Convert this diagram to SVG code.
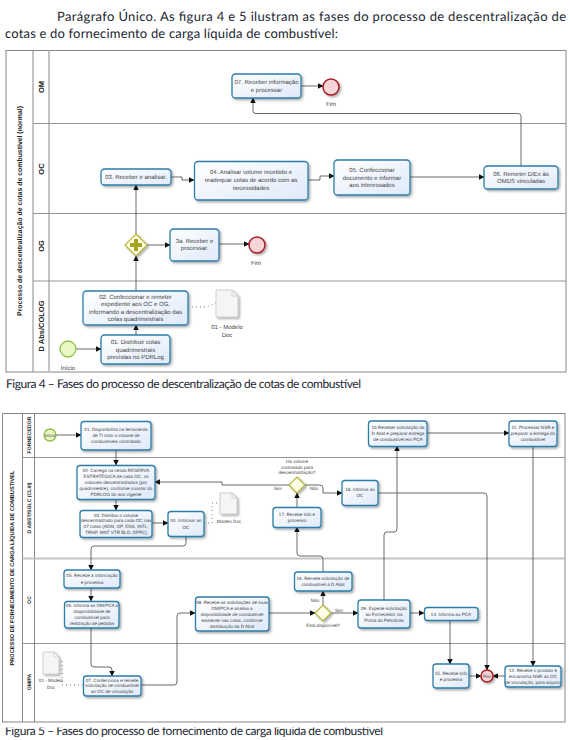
<svg xmlns="http://www.w3.org/2000/svg" width="570" height="740" viewBox="0 0 570 740">
<style>
text{font-family:"Liberation Sans",Arial,sans-serif;fill:#444;text-rendering:geometricPrecision}
.h{font-family:Lato,"Liberation Sans",sans-serif;font-size:13px;fill:#1c2733}
.cap{font-size:12px}
.t1{font-size:6px;text-anchor:middle}
.t2{font-size:4.600px;text-anchor:middle}
.pool{font-weight:bold;fill:#222;text-anchor:middle}
.n{fill:url(#g);stroke:#2b7ea8;stroke-width:1.300;filter:url(#s)}
.c{fill:none;stroke:#444;stroke-width:.8}
.a{marker-end:url(#m)}
.d{fill:none;stroke:#555;stroke-width:.8;stroke-dasharray:1 3}
.f{fill:none;stroke:#888;stroke-width:1}
.l{fill:none;stroke:#888;stroke-width:.9}
.k{fill:none;stroke:#c4c4c4;stroke-width:2}
.doc{fill:#f5f5f5;stroke:#c0c0c0;stroke-width:.7;filter:url(#s)}
.gw{fill:#fdfde8;stroke:#b5b53c;stroke-width:1.200;filter:url(#s)}
.st{fill:#eaf6c4;stroke:#8fc04a;stroke-width:1.300}
.en{fill:#f6d5d8;stroke:#a81c24;stroke-width:1.500;filter:url(#s)}
</style>
<defs>
<linearGradient id="g" x1="0" y1="0" x2="1" y2="1"><stop offset="0" stop-color="#ffffff"/><stop offset="1" stop-color="#dfe9fa"/></linearGradient>
<filter id="s" x="-20%" y="-20%" width="150%" height="150%"><feDropShadow dx="1.500" dy="1.500" stdDeviation="1" flood-color="#000" flood-opacity=".35"/></filter>
<marker id="m" viewBox="0 0 6 6" refX="5.500" refY="3" markerWidth="5.500" markerHeight="5.500" markerUnits="userSpaceOnUse" orient="auto"><path d="M0 0L6 3L0 6Z" fill="#111"/></marker>
<clipPath id="cut"><rect x="0" y="727.500" width="570" height="13"/></clipPath>
</defs>
<rect width="570" height="740" fill="#fff"/>

<text class="h" x="57" y="21" textLength="509" lengthAdjust="spacing">Parágrafo Único. As figura 4 e 5 ilustram as fases do processo de descentralização de</text>
<text class="h" x="5" y="38" textLength="333" lengthAdjust="spacing">cotas e do fornecimento de carga líquida de combustível:</text>
<text class="h cap" x="6" y="388" textLength="355" lengthAdjust="spacing">Figura 4 – Fases do processo de descentralização de cotas de combustível</text>
<text class="h cap" x="5" y="735" textLength="378" lengthAdjust="spacing" clip-path="url(#cut)">Figura 5 – Fases do processo de fornecimento de carga líquida de combustível</text>

<g id="pool1">
<rect class="f" x="6" y="50.500" width="560" height="321.500"/>
<path class="f" d="M33 50.500V372"/>
<path class="k" d="M49 50.500V372"/>
<path class="l" d="M33 123.500H566M33 213.500H566M33 281H566"/>
<text class="pool" font-size="6.900" transform="translate(21.500 211) rotate(-90)">Processo de descentralização de cotas de combustível (normal)</text>
<text class="pool" font-size="7.500" transform="translate(43.500 87) rotate(-90)">OM</text>
<text class="pool" font-size="7.500" transform="translate(43.500 169) rotate(-90)">OC</text>
<text class="pool" font-size="7.500" transform="translate(43.500 246) rotate(-90)">OG</text>
<text class="pool" font-size="7.500" transform="translate(43.500 326) rotate(-90)">D Abs/COLOG</text>
</g>
<g id="pool2">
<rect class="f" x="2.500" y="413.500" width="562.500" height="308.500"/>
<path class="f" d="M22.500 413.500V722M34.500 413.500V722"/>
<path class="l" d="M22.500 457.500H565M22.500 643.500H565"/>
<path class="k" d="M22.500 558.500H565"/>
<text class="pool" font-size="5.600" transform="translate(14 568) rotate(-90)">PROCESSO DE FORNECIMENTO DE CARGA LÍQUIDA DE COMBUSTIVEL</text>
<text class="pool" font-size="5.200" transform="translate(30.500 435) rotate(-90)">FORNECEDOR</text>
<text class="pool" font-size="5.200" transform="translate(30.500 508) rotate(-90)">D ABST/SGLC (CLIII)</text>
<text class="pool" font-size="5.200" transform="translate(30.500 600) rotate(-90)">OC</text>
<text class="pool" font-size="5.200" transform="translate(30.500 682) rotate(-90)">OM/PA</text>
</g>

<g id="connectors">
<path class="c a" d="M301 86H323"/>
<path class="c a" d="M521 166V116Q521 113.500 518 113.500H256Q253 113.500 253 111V98"/>
<path class="c a" d="M410 177H484"/>
<path class="c a" d="M308 180H320V176H334"/>
<path class="c a" d="M171 177H182V180H194"/>
<path class="c a" d="M136 234V185"/>
<path class="c a" d="M136 291V256"/>
<path class="c a" d="M147 245H170"/>
<path class="c a" d="M219 244H249"/>
<path class="c a" d="M136 335V325"/>
<path class="c a" d="M76 349H101"/>
<path class="d" d="M188 307H206L216 303"/>

<path class="c a" d="M56 435H81"/>
<path class="c a" d="M116 450V465"/>
<path class="c a" d="M116 499V510"/>
<path class="c a" d="M152 523H168"/>
<path class="c a" d="M186 536V543Q186 546 183 546H94Q91 546 91 549V570"/>
<path class="d" d="M204 523H212V503H220"/>
<path class="c a" d="M91 588V601"/>
<path class="c a" d="M91 628V664Q91 667 94 667H109Q112 667 112 670V676"/>
<path class="d" d="M83 685H62V660"/>
<path class="c a" d="M141 685H174Q177 685 177 682V616Q177 613 180 613H195"/>
<path class="c a" d="M269 613H315"/>
<path class="c a" d="M331 613H358"/>
<path class="c a" d="M323 605V591"/>
<path class="c a" d="M323 572V559Q323 556 320 556H300Q297 556 297 553V527"/>
<path class="c a" d="M297 507V493"/>
<path class="c a" d="M289 485H222V482H155"/>
<path class="c a" d="M305 485H320Q323 485 323 488V493H342"/>
<path class="c a" d="M378 493H484Q487 493 487 496V670"/>
<path class="c a" d="M384 600V535Q384 532 387 532H394Q397 532 397 529V446"/>
<path class="c a" d="M427 433H509"/>
<path class="c a" d="M533 446V666"/>
<path class="c a" d="M410 613H424"/>
<path class="c a" d="M450 620V664"/>
<path class="c a" d="M469 676H481"/>
<path class="c a" d="M505 676H493"/>
</g>

<g id="f4-07"><rect class="n" x="232" y="74" width="69" height="24" rx="3.500"/><text class="t1"><tspan x="266.500" y="84">07. Receber informação</tspan><tspan x="266.500" y="92">e processar</tspan></text></g>
<g id="f4-fim1"><circle class="en" cx="331" cy="87" r="8"/><text class="t1" x="331" y="106">Fim</text></g>
<g id="f4-03"><rect class="n" x="101" y="169" width="70" height="16" rx="3.500"/><text class="t1" x="136" y="179">03. Receber e analisar.</text></g>
<g id="f4-04"><rect class="n" x="194.500" y="161.500" width="113.500" height="38.500" rx="3.500"/><text class="t1"><tspan x="251" y="174">04. Analisar volume recebido e</tspan><tspan x="251" y="182">readequar cotas de acordo com as</tspan><tspan x="251" y="190">necessidades</tspan></text></g>
<g id="f4-05"><rect class="n" x="334" y="160" width="76" height="35" rx="3.500"/><text class="t1"><tspan x="372" y="172">05. Confeccionar</tspan><tspan x="372" y="179.500">documento e informar</tspan><tspan x="372" y="187">aos interessados</tspan></text></g>
<g id="f4-06"><rect class="n" x="484" y="166" width="74" height="23" rx="3.500"/><text class="t1"><tspan x="521" y="176">06. Remeter DIEx às</tspan><tspan x="521" y="183">OMDS vinculadas</tspan></text></g>
<g id="f4-gw"><path class="gw" d="M136 234L147 245L136 256L125 245Z"/><path d="M134 239h4v4h4v4h-4v4h-4v-4h-4v-4h4Z" fill="#a8a420"/></g>
<g id="f4-3a"><rect class="n" x="170" y="229" width="49" height="32" rx="3.500"/><text class="t1"><tspan x="194.500" y="243">3a. Receber e</tspan><tspan x="194.500" y="250">processar.</tspan></text></g>
<g id="f4-fim2"><circle class="en" cx="257" cy="245" r="8"/><text class="t1" x="256" y="265">Fim</text></g>
<g id="f4-02"><rect class="n" x="83" y="291" width="105" height="34" rx="3.500"/><text class="t1"><tspan x="135.500" y="298.500">02. Confeccionar e remeter</tspan><tspan x="135.500" y="306">expediente aos  OC e OG,</tspan><tspan x="135.500" y="313.500">informando a descentralização das</tspan><tspan x="135.500" y="321">cotas quadrimestrais</tspan></text></g>
<g id="f4-doc"><path class="doc" d="M216 290H232L238 296V317H216Z"/><path d="M232 290V296H238" fill="none" stroke="#c0c0c0" stroke-width=".6"/><text class="t1"><tspan x="227" y="329">01 - Modelo</tspan><tspan x="227" y="337">Doc</tspan></text></g>
<g id="f4-01"><rect class="n" x="101" y="335" width="69" height="29" rx="3.500"/><text class="t1"><tspan x="135.500" y="344">01. Distribuir cotas</tspan><tspan x="135.500" y="351.500">quadrimestrais</tspan><tspan x="135.500" y="359">previstas no PDRLog</tspan></text></g>
<g id="f4-inicio"><circle class="st" cx="68" cy="349" r="8"/><text class="t1" x="68" y="370">Início</text></g>

<g id="f5-inicio"><circle class="st" cx="50" cy="435" r="6"/><text class="t2" x="50" y="437">Início</text></g>
<g id="f5-01"><rect class="n" x="81" y="421.500" width="70" height="28.500" rx="3"/><text class="t2"><tspan x="116" y="431">01. Disponibiliza na ferramenta</tspan><tspan x="116" y="437">de TI todo o volume de</tspan><tspan x="116" y="443">combustíveis contratado</tspan></text></g>
<g id="f5-02"><rect class="n" x="77" y="465.500" width="78" height="34" rx="3"/><text class="t2"><tspan x="116" y="472">02. Carrega na célula RESERVA</tspan><tspan x="116" y="478">ESTRATÉGICA de cada OC, os</tspan><tspan x="116" y="484">volumes descentralizados (por</tspan><tspan x="116" y="490">quadrimestre), conforme constar do</tspan><tspan x="116" y="496">PDRLOG do ano vigente</tspan></text></g>
<g id="f5-03"><rect class="n" x="80" y="510.500" width="72" height="27" rx="3"/><text class="t2"><tspan x="116" y="516.500">03. Distribui o volume</tspan><tspan x="116" y="522">descentralizado para cada OC nas</tspan><tspan x="116" y="528">07 cotas (ADM, OP, ENS, INTL,</tspan><tspan x="116" y="534">TRNP, MNT VTR BLD, DPFC)</tspan></text></g>
<g id="f5-04"><rect class="n" x="168" y="511.500" width="36" height="25" rx="3"/><text class="t2"><tspan x="186" y="522">04. Informar ao</tspan><tspan x="186" y="529">OC</tspan></text></g>
<g id="f5-doc1"><path class="doc" d="M220 493H232L237 498V514H220Z"/><path d="M232 493V498H237" fill="none" stroke="#c0c0c0" stroke-width=".6"/><text class="t2" x="229" y="523">Modelo Doc</text></g>
<g id="f5-05"><rect class="n" x="64" y="570" width="56" height="18" rx="3"/><text class="t2"><tspan x="92" y="577">05. Recebe a informação</tspan><tspan x="92" y="583.500">e processa</tspan></text></g>
<g id="f5-06"><rect class="n" x="64.500" y="601.500" width="54.500" height="26.500" rx="3"/><text class="t2"><tspan x="92" y="607">06. Informa as OM/PCA a</tspan><tspan x="92" y="613">disponibilidade de</tspan><tspan x="92" y="619">combustível para</tspan><tspan x="92" y="625">realização de pedidos</tspan></text></g>
<g id="f5-07"><rect class="n" x="83.500" y="676" width="57.500" height="20" rx="3"/><text class="t2"><tspan x="112" y="681.500">07. Confecciona e remete</tspan><tspan x="112" y="687">solicitação de combustível</tspan><tspan x="112" y="693">ao OC de vinculação</tspan></text></g>
<g id="f5-doc2"><path class="doc" d="M43 652H54L59 657V674H43Z"/><path d="M54 652V657H59" fill="none" stroke="#c0c0c0" stroke-width=".6"/><text class="t2"><tspan x="51" y="682">01 - Modelo</tspan><tspan x="51" y="689">Doc</tspan></text></g>
<g id="f5-08"><rect class="n" x="195.500" y="597" width="73.500" height="34" rx="3"/><text class="t2"><tspan x="232" y="603.500">08. Recebe as solicitações de suas</tspan><tspan x="232" y="609.500">OM/PCA e analisa a</tspan><tspan x="232" y="615.500">disponibilidade de combustível</tspan><tspan x="232" y="621.500">existente nas cotas, conforme</tspan><tspan x="232" y="627.500">distribuição da D Abst</tspan></text></g>
<g id="f5-gw2"><path class="gw" d="M323 605L331 613L323 621L315 613Z"/><text class="t2" x="323" y="627">Está disponível?</text><text class="t2" x="315" y="602">Não</text><text class="t2" x="339" y="612">Sim</text></g>
<g id="f5-09"><rect class="n" x="358" y="600" width="52" height="28" rx="3"/><text class="t2"><tspan x="384" y="610">09. Expede solicitação</tspan><tspan x="384" y="616">ao Fornecedor via</tspan><tspan x="384" y="621.500">Portal da Petrobrás</tspan></text></g>
<g id="f5-14"><rect class="n" x="424.500" y="607.500" width="53.500" height="13" rx="3"/><text class="t2" x="451" y="615.500">14. Informa ao PCA</text></g>
<g id="f5-15"><rect class="n" x="433" y="664" width="36" height="24" rx="3"/><text class="t2"><tspan x="451" y="675">15. Recebe Info</tspan><tspan x="451" y="681">e processa</tspan></text></g>
<g id="f5-fim"><circle class="en" cx="487" cy="676" r="6"/><text class="t2" x="487" y="678">Fim</text></g>
<g id="f5-12"><rect class="n" x="505" y="666" width="56" height="21" rx="3"/><text class="t2"><tspan x="533" y="672">12. Recebe o produto e</tspan><tspan x="533" y="678">encaminha NSR ao OC</tspan><tspan x="533" y="684">de vinculação, para arquivo</tspan></text></g>
<g id="f5-16"><rect class="n" x="294.500" y="572" width="57.500" height="19" rx="3"/><text class="t2"><tspan x="323" y="579.500">16. Remete solicitação de</tspan><tspan x="323" y="585.500">combustível à D Abst</tspan></text></g>
<g id="f5-17"><rect class="n" x="273" y="507.500" width="48" height="20" rx="3"/><text class="t2"><tspan x="297" y="516">17. Recebe Info e</tspan><tspan x="297" y="522">processo</tspan></text></g>
<g id="f5-gw1"><path class="gw" d="M297 477L305 485L297 493L289 485Z"/><text class="t2"><tspan x="297" y="463">Há volume</tspan><tspan x="297" y="468.500">contratado para</tspan><tspan x="297" y="474">descentralização?</tspan></text><text class="t2" x="278" y="490">Sim</text><text class="t2" x="314" y="490">Não</text></g>
<g id="f5-18"><rect class="n" x="342" y="480.500" width="36" height="25" rx="3"/><text class="t2"><tspan x="360" y="491">18. Informa ao</tspan><tspan x="360" y="497">OC</tspan></text></g>
<g id="f5-10"><rect class="n" x="368.500" y="421" width="58.500" height="25.500" rx="3"/><text class="t2"><tspan x="398" y="429">10.Receber solicitação da</tspan><tspan x="398" y="435">D Abst e preparar entrega</tspan><tspan x="398" y="441">de combustível em PCA</tspan></text></g>
<g id="f5-11"><rect class="n" x="509" y="421" width="48" height="25.500" rx="3"/><text class="t2"><tspan x="533" y="429">11. Processar NSR e</tspan><tspan x="533" y="435">preparar a entrega do</tspan><tspan x="533" y="441">combustível</tspan></text></g>
</svg>
